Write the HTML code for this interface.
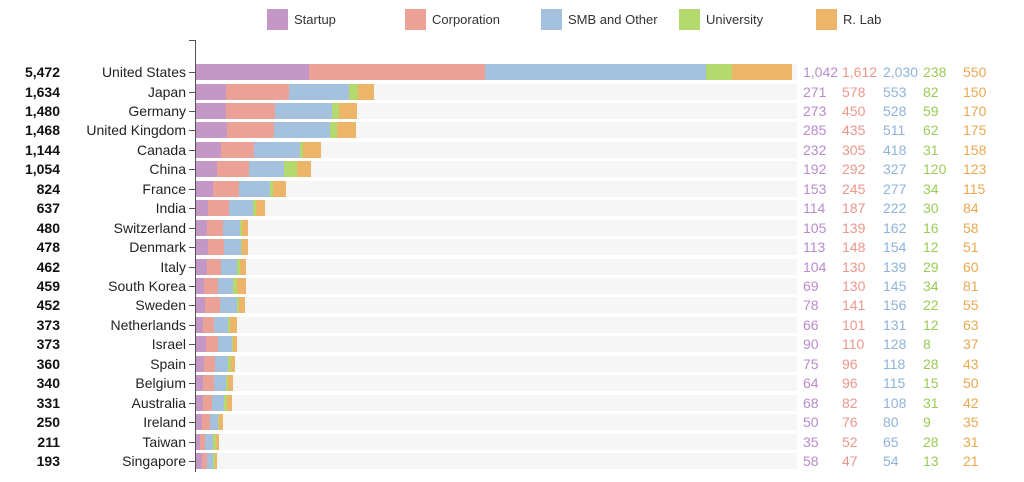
<!DOCTYPE html>
<html><head><meta charset="utf-8"><style>
body{margin:0;width:1024px;height:482px;background:#fff;font-family:"Liberation Sans",sans-serif;position:relative;overflow:hidden}
.lg{position:absolute;top:9px;height:21px;display:flex;align-items:center;font-size:13px;color:#333}
.lg i{display:inline-block;width:21px;height:21px;margin-right:6px}
.row{position:absolute;left:0;width:1024px;height:16px}
.tot{position:absolute;right:964px;top:0;font-weight:bold;font-size:14px;line-height:16px;color:#111}
.lab{position:absolute;right:838px;top:0;font-size:14px;line-height:16px;color:#222}
.tk{position:absolute;left:189px;top:8px;width:6px;height:1px;background:#555}
.bg{position:absolute;left:196px;top:0;width:601px;height:16px;background:#f6f6f6}
.bar{position:absolute;left:196px;top:0;height:16px;display:flex}
.bar span{height:16px;display:block}
.v{position:absolute;top:0;font-size:14px;line-height:16px}
.a{background:#c398c7}.b{background:#eca196}.c{background:#a4c2dd}.d{background:#b4d96f}.e{background:#ecb56a}
.ta{color:#b98bcb}.tb{color:#ec978c}.tc{color:#8fb3d9}.td{color:#9ccc55}.te{color:#eba84f}
</style></head><body>
<div class="lg" style="left:267px"><i class="a"></i>Startup</div>
<div class="lg" style="left:405px"><i class="b"></i>Corporation</div>
<div class="lg" style="left:541px"><i class="c"></i>SMB and Other</div>
<div class="lg" style="left:679px"><i class="d"></i>University</div>
<div class="lg" style="left:816px"><i class="e"></i>R. Lab</div>
<div style="position:absolute;left:195px;top:40px;width:1px;height:432px;background:#555"></div>
<div style="position:absolute;left:189px;top:40px;width:6px;height:1px;background:#555"></div>

<div class="row" style="top:64px"><div class="tot">5,472</div><div class="lab">United States</div><div class="tk"></div><div class="bg"></div><div class="bar"><span class="a" style="width:113px"></span><span class="b" style="width:176px"></span><span class="c" style="width:221px"></span><span class="d" style="width:26px"></span><span class="e" style="width:60px"></span></div><div class="v ta" style="left:803px">1,042</div><div class="v tb" style="left:842px">1,612</div><div class="v tc" style="left:883px">2,030</div><div class="v td" style="left:923px">238</div><div class="v te" style="left:963px">550</div></div>
<div class="row" style="top:83.5px"><div class="tot">1,634</div><div class="lab">Japan</div><div class="tk"></div><div class="bg"></div><div class="bar"><span class="a" style="width:29.5px"></span><span class="b" style="width:63px"></span><span class="c" style="width:60.3px"></span><span class="d" style="width:8.9px"></span><span class="e" style="width:16.4px"></span></div><div class="v ta" style="left:803px">271</div><div class="v tb" style="left:842px">578</div><div class="v tc" style="left:883px">553</div><div class="v td" style="left:923px">82</div><div class="v te" style="left:963px">150</div></div>
<div class="row" style="top:102.9px"><div class="tot">1,480</div><div class="lab">Germany</div><div class="tk"></div><div class="bg"></div><div class="bar"><span class="a" style="width:29.8px"></span><span class="b" style="width:49px"></span><span class="c" style="width:57.6px"></span><span class="d" style="width:6.4px"></span><span class="e" style="width:18.5px"></span></div><div class="v ta" style="left:803px">273</div><div class="v tb" style="left:842px">450</div><div class="v tc" style="left:883px">528</div><div class="v td" style="left:923px">59</div><div class="v te" style="left:963px">170</div></div>
<div class="row" style="top:122.4px"><div class="tot">1,468</div><div class="lab">United Kingdom</div><div class="tk"></div><div class="bg"></div><div class="bar"><span class="a" style="width:31.1px"></span><span class="b" style="width:47.4px"></span><span class="c" style="width:55.7px"></span><span class="d" style="width:6.8px"></span><span class="e" style="width:19.1px"></span></div><div class="v ta" style="left:803px">285</div><div class="v tb" style="left:842px">435</div><div class="v tc" style="left:883px">511</div><div class="v td" style="left:923px">62</div><div class="v te" style="left:963px">175</div></div>
<div class="row" style="top:141.8px"><div class="tot">1,144</div><div class="lab">Canada</div><div class="tk"></div><div class="bg"></div><div class="bar"><span class="a" style="width:25.3px"></span><span class="b" style="width:33.2px"></span><span class="c" style="width:45.6px"></span><span class="d" style="width:3.4px"></span><span class="e" style="width:17.2px"></span></div><div class="v ta" style="left:803px">232</div><div class="v tb" style="left:842px">305</div><div class="v tc" style="left:883px">418</div><div class="v td" style="left:923px">31</div><div class="v te" style="left:963px">158</div></div>
<div class="row" style="top:161.3px"><div class="tot">1,054</div><div class="lab">China</div><div class="tk"></div><div class="bg"></div><div class="bar"><span class="a" style="width:20.9px"></span><span class="b" style="width:31.8px"></span><span class="c" style="width:35.6px"></span><span class="d" style="width:13.1px"></span><span class="e" style="width:13.4px"></span></div><div class="v ta" style="left:803px">192</div><div class="v tb" style="left:842px">292</div><div class="v tc" style="left:883px">327</div><div class="v td" style="left:923px">120</div><div class="v te" style="left:963px">123</div></div>
<div class="row" style="top:180.7px"><div class="tot">824</div><div class="lab">France</div><div class="tk"></div><div class="bg"></div><div class="bar"><span class="a" style="width:16.7px"></span><span class="b" style="width:26.7px"></span><span class="c" style="width:30.2px"></span><span class="d" style="width:3.7px"></span><span class="e" style="width:12.5px"></span></div><div class="v ta" style="left:803px">153</div><div class="v tb" style="left:842px">245</div><div class="v tc" style="left:883px">277</div><div class="v td" style="left:923px">34</div><div class="v te" style="left:963px">115</div></div>
<div class="row" style="top:200.2px"><div class="tot">637</div><div class="lab">India</div><div class="tk"></div><div class="bg"></div><div class="bar"><span class="a" style="width:12.4px"></span><span class="b" style="width:20.4px"></span><span class="c" style="width:24.2px"></span><span class="d" style="width:3.3px"></span><span class="e" style="width:9.2px"></span></div><div class="v ta" style="left:803px">114</div><div class="v tb" style="left:842px">187</div><div class="v tc" style="left:883px">222</div><div class="v td" style="left:923px">30</div><div class="v te" style="left:963px">84</div></div>
<div class="row" style="top:219.6px"><div class="tot">480</div><div class="lab">Switzerland</div><div class="tk"></div><div class="bg"></div><div class="bar"><span class="a" style="width:11.4px"></span><span class="b" style="width:15.2px"></span><span class="c" style="width:17.7px"></span><span class="d" style="width:1.7px"></span><span class="e" style="width:6.3px"></span></div><div class="v ta" style="left:803px">105</div><div class="v tb" style="left:842px">139</div><div class="v tc" style="left:883px">162</div><div class="v td" style="left:923px">16</div><div class="v te" style="left:963px">58</div></div>
<div class="row" style="top:239.1px"><div class="tot">478</div><div class="lab">Denmark</div><div class="tk"></div><div class="bg"></div><div class="bar"><span class="a" style="width:12.3px"></span><span class="b" style="width:16.1px"></span><span class="c" style="width:16.8px"></span><span class="d" style="width:1.3px"></span><span class="e" style="width:5.6px"></span></div><div class="v ta" style="left:803px">113</div><div class="v tb" style="left:842px">148</div><div class="v tc" style="left:883px">154</div><div class="v td" style="left:923px">12</div><div class="v te" style="left:963px">51</div></div>
<div class="row" style="top:258.5px"><div class="tot">462</div><div class="lab">Italy</div><div class="tk"></div><div class="bg"></div><div class="bar"><span class="a" style="width:11.3px"></span><span class="b" style="width:14.2px"></span><span class="c" style="width:15.2px"></span><span class="d" style="width:3.2px"></span><span class="e" style="width:6.5px"></span></div><div class="v ta" style="left:803px">104</div><div class="v tb" style="left:842px">130</div><div class="v tc" style="left:883px">139</div><div class="v td" style="left:923px">29</div><div class="v te" style="left:963px">60</div></div>
<div class="row" style="top:278px"><div class="tot">459</div><div class="lab">South Korea</div><div class="tk"></div><div class="bg"></div><div class="bar"><span class="a" style="width:7.5px"></span><span class="b" style="width:14.2px"></span><span class="c" style="width:15.8px"></span><span class="d" style="width:3.7px"></span><span class="e" style="width:8.8px"></span></div><div class="v ta" style="left:803px">69</div><div class="v tb" style="left:842px">130</div><div class="v tc" style="left:883px">145</div><div class="v td" style="left:923px">34</div><div class="v te" style="left:963px">81</div></div>
<div class="row" style="top:297.4px"><div class="tot">452</div><div class="lab">Sweden</div><div class="tk"></div><div class="bg"></div><div class="bar"><span class="a" style="width:8.5px"></span><span class="b" style="width:15.4px"></span><span class="c" style="width:17px"></span><span class="d" style="width:2.4px"></span><span class="e" style="width:6px"></span></div><div class="v ta" style="left:803px">78</div><div class="v tb" style="left:842px">141</div><div class="v tc" style="left:883px">156</div><div class="v td" style="left:923px">22</div><div class="v te" style="left:963px">55</div></div>
<div class="row" style="top:316.9px"><div class="tot">373</div><div class="lab">Netherlands</div><div class="tk"></div><div class="bg"></div><div class="bar"><span class="a" style="width:7.2px"></span><span class="b" style="width:11px"></span><span class="c" style="width:14.3px"></span><span class="d" style="width:1.3px"></span><span class="e" style="width:6.9px"></span></div><div class="v ta" style="left:803px">66</div><div class="v tb" style="left:842px">101</div><div class="v tc" style="left:883px">131</div><div class="v td" style="left:923px">12</div><div class="v te" style="left:963px">63</div></div>
<div class="row" style="top:336.3px"><div class="tot">373</div><div class="lab">Israel</div><div class="tk"></div><div class="bg"></div><div class="bar"><span class="a" style="width:9.8px"></span><span class="b" style="width:12px"></span><span class="c" style="width:14px"></span><span class="d" style="width:0.9px"></span><span class="e" style="width:4px"></span></div><div class="v ta" style="left:803px">90</div><div class="v tb" style="left:842px">110</div><div class="v tc" style="left:883px">128</div><div class="v td" style="left:923px">8</div><div class="v te" style="left:963px">37</div></div>
<div class="row" style="top:355.8px"><div class="tot">360</div><div class="lab">Spain</div><div class="tk"></div><div class="bg"></div><div class="bar"><span class="a" style="width:8.2px"></span><span class="b" style="width:10.5px"></span><span class="c" style="width:12.9px"></span><span class="d" style="width:3.1px"></span><span class="e" style="width:4.7px"></span></div><div class="v ta" style="left:803px">75</div><div class="v tb" style="left:842px">96</div><div class="v tc" style="left:883px">118</div><div class="v td" style="left:923px">28</div><div class="v te" style="left:963px">43</div></div>
<div class="row" style="top:375.2px"><div class="tot">340</div><div class="lab">Belgium</div><div class="tk"></div><div class="bg"></div><div class="bar"><span class="a" style="width:7px"></span><span class="b" style="width:10.5px"></span><span class="c" style="width:12.5px"></span><span class="d" style="width:1.6px"></span><span class="e" style="width:5.5px"></span></div><div class="v ta" style="left:803px">64</div><div class="v tb" style="left:842px">96</div><div class="v tc" style="left:883px">115</div><div class="v td" style="left:923px">15</div><div class="v te" style="left:963px">50</div></div>
<div class="row" style="top:394.7px"><div class="tot">331</div><div class="lab">Australia</div><div class="tk"></div><div class="bg"></div><div class="bar"><span class="a" style="width:7.4px"></span><span class="b" style="width:8.9px"></span><span class="c" style="width:11.8px"></span><span class="d" style="width:3.4px"></span><span class="e" style="width:4.6px"></span></div><div class="v ta" style="left:803px">68</div><div class="v tb" style="left:842px">82</div><div class="v tc" style="left:883px">108</div><div class="v td" style="left:923px">31</div><div class="v te" style="left:963px">42</div></div>
<div class="row" style="top:414.1px"><div class="tot">250</div><div class="lab">Ireland</div><div class="tk"></div><div class="bg"></div><div class="bar"><span class="a" style="width:5.5px"></span><span class="b" style="width:8.3px"></span><span class="c" style="width:8.7px"></span><span class="d" style="width:1px"></span><span class="e" style="width:3.8px"></span></div><div class="v ta" style="left:803px">50</div><div class="v tb" style="left:842px">76</div><div class="v tc" style="left:883px">80</div><div class="v td" style="left:923px">9</div><div class="v te" style="left:963px">35</div></div>
<div class="row" style="top:433.6px"><div class="tot">211</div><div class="lab">Taiwan</div><div class="tk"></div><div class="bg"></div><div class="bar"><span class="a" style="width:3.8px"></span><span class="b" style="width:5.7px"></span><span class="c" style="width:7.1px"></span><span class="d" style="width:3.1px"></span><span class="e" style="width:3.4px"></span></div><div class="v ta" style="left:803px">35</div><div class="v tb" style="left:842px">52</div><div class="v tc" style="left:883px">65</div><div class="v td" style="left:923px">28</div><div class="v te" style="left:963px">31</div></div>
<div class="row" style="top:453px"><div class="tot">193</div><div class="lab">Singapore</div><div class="tk"></div><div class="bg"></div><div class="bar"><span class="a" style="width:6.3px"></span><span class="b" style="width:5.1px"></span><span class="c" style="width:5.9px"></span><span class="d" style="width:1.4px"></span><span class="e" style="width:2.3px"></span></div><div class="v ta" style="left:803px">58</div><div class="v tb" style="left:842px">47</div><div class="v tc" style="left:883px">54</div><div class="v td" style="left:923px">13</div><div class="v te" style="left:963px">21</div></div>
</body></html>
